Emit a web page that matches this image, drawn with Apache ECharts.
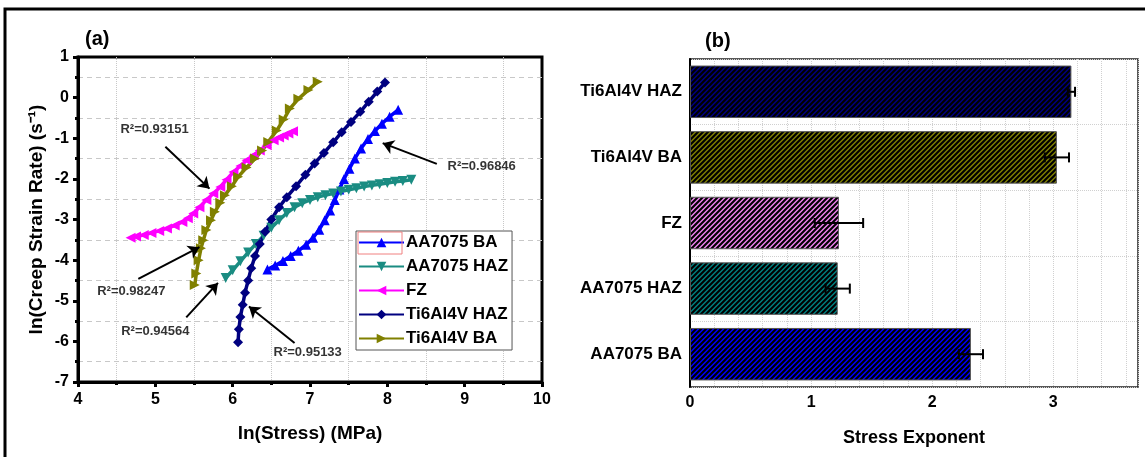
<!DOCTYPE html>
<html>
<head>
<meta charset="utf-8">
<script src="https://cdn.jsdelivr.net/npm/echarts@6/dist/echarts.min.js"></script>
<style>
  html, body { margin: 0; padding: 0; background: #fff; }
  #chart { width: 1145px; height: 457px; }
</style>
</head>
<body>
<div id="chart"></div>
<script>
// (a) ln(creep strain rate) vs ln(stress)
const aa7075BA = [[6.45,-4.23],[6.55,-4.13],[6.65,-4.02],[6.75,-3.9],[6.85,-3.77],[6.95,-3.62],[7.04,-3.45],
  [7.12,-3.25],[7.19,-3.02],[7.26,-2.78],[7.32,-2.52],[7.38,-2.26],[7.44,-2.0],[7.51,-1.75],[7.58,-1.5],
  [7.66,-1.25],[7.75,-1.02],[7.84,-0.82],[7.93,-0.64],[8.03,-0.47],[8.14,-0.3]];
const aa7075HAZ = [[5.91,-4.44],[6.0,-4.25],[6.1,-4.03],[6.2,-3.81],[6.3,-3.6],[6.4,-3.4],[6.5,-3.2],[6.6,-3.02],
  [6.7,-2.84],[6.8,-2.7],[6.9,-2.6],[7.0,-2.52],[7.1,-2.45],[7.2,-2.4],[7.3,-2.36],[7.4,-2.31],[7.5,-2.27],
  [7.6,-2.23],[7.7,-2.19],[7.8,-2.16],[7.9,-2.13],[8.0,-2.1],[8.1,-2.07],[8.2,-2.05],[8.31,-2.02]];
const fz = [[4.68,-3.45],[4.75,-3.42],[4.85,-3.38],[4.95,-3.33],[5.05,-3.28],[5.15,-3.22],[5.25,-3.15],
  [5.35,-3.06],[5.42,-2.97],[5.49,-2.85],[5.57,-2.7],[5.66,-2.52],[5.75,-2.36],[5.84,-2.2],[5.92,-2.02],
  [6.01,-1.83],[6.1,-1.68],[6.18,-1.54],[6.27,-1.42],[6.35,-1.3],[6.44,-1.17],[6.53,-1.05],[6.6,-0.98],
  [6.66,-0.93],[6.72,-0.88],[6.78,-0.83]];
const ti6Al4vHAZ = [[6.07,-6.02],[6.08,-5.7],[6.1,-5.4],[6.13,-5.1],[6.16,-4.8],[6.2,-4.5],[6.24,-4.2],
  [6.29,-3.9],[6.35,-3.6],[6.42,-3.3],[6.5,-3.0],[6.6,-2.7],[6.7,-2.45],[6.82,-2.18],[6.94,-1.9],
  [7.06,-1.62],[7.18,-1.36],[7.3,-1.1],[7.41,-0.85],[7.53,-0.6],[7.65,-0.35],[7.76,-0.1],[7.87,0.15],[7.97,0.37]];
const ti6Al4vBA = [[5.51,-4.61],[5.53,-4.33],[5.56,-4.0],[5.59,-3.71],[5.62,-3.51],[5.66,-3.26],[5.72,-3.02],
  [5.77,-2.81],[5.84,-2.59],[5.9,-2.4],[5.99,-2.18],[6.07,-1.95],[6.18,-1.72],[6.29,-1.5],[6.38,-1.3],
  [6.46,-1.09],[6.57,-0.81],[6.66,-0.54],[6.74,-0.27],[6.85,-0.03],[6.98,0.19],[7.1,0.39]];

const r2Labels = ['R²=0.93151', 'R²=0.96846', 'R²=0.98247', 'R²=0.94564', 'R²=0.95133'];
const r2Pos = [[4.99,-0.79],[9.22,-1.69],[4.69,-4.78],[5.0,-5.75],[6.97,-6.28]];
const r2Arrows = [[5.13,-1.21,5.70,-2.24],[8.64,-1.63,7.94,-1.12],[4.78,-4.46,5.57,-3.68],
  [5.40,-5.41,5.81,-4.56],[6.80,-6.04,6.21,-5.14]];

// (b) stress exponent
const barCats = ['AA7075 BA', 'AA7075 HAZ', 'FZ', 'Ti6Al4V BA', 'Ti6Al4V HAZ'];
const exponent = [2.32, 1.22, 1.23, 3.03, 3.15];
const errLow = [2.22, 1.12, 1.03, 2.93, 3.12];
const errHigh = [2.42, 1.32, 1.43, 3.13, 3.18];
const barColors = ['#0000ff', '#008080', '#ee82ee', '#808000', '#000080'];

const FONT = '"Liberation Sans", Arial, sans-serif';

function hatch(color) {
  const s = 5;
  const c = document.createElement('canvas');
  c.width = s; c.height = s;
  const ctx = c.getContext('2d');
  ctx.fillStyle = color;
  ctx.fillRect(0, 0, s, s);
  ctx.strokeStyle = '#000';
  ctx.lineWidth = 2.1;
  ctx.beginPath();
  ctx.moveTo(-1, s + 1); ctx.lineTo(s + 1, -1);
  ctx.moveTo(-1, 1); ctx.lineTo(1, -1);
  ctx.moveTo(s - 1, s + 1); ctx.lineTo(s + 1, s - 1);
  ctx.stroke();
  return { image: c, repeat: 'repeat' };
}

function lineSeries(name, data, color, symbol, rotate) {
  return {
    type: 'line', name, data, color,
    xAxisIndex: 0, yAxisIndex: 0,
    symbol, symbolSize: 10, symbolRotate: rotate,
    lineStyle: { width: 3.5, color },
    itemStyle: { color },
    showSymbol: true
  };
}

const chart = echarts.init(document.getElementById('chart'));

const option = {
  animation: false,
  title: [
    { text: '(a)', left: 80, top: 24, textStyle: { fontFamily: FONT, fontWeight: 'bold', fontSize: 20, color: '#000' } },
    { text: '(b)', left: 700, top: 26, textStyle: { fontFamily: FONT, fontWeight: 'bold', fontSize: 20, color: '#000' } }
  ],
  graphic: [
    { type: 'rect', shape: { x: 5, y: 9, width: 1170, height: 480 }, style: { fill: 'none', stroke: '#000', lineWidth: 3 }, silent: true },
    { type: 'rect', shape: { x: 358, y: 232, width: 44, height: 22 }, style: { fill: 'none', stroke: '#f08080', lineWidth: 1 }, z: 100, silent: true }
  ],
  legend: {
    data: ['AA7075 BA', 'AA7075 HAZ', 'FZ', 'Ti6Al4V HAZ', 'Ti6Al4V BA'],
    orient: 'vertical',
    left: 356, top: 231,
    itemWidth: 45, itemHeight: 12, itemGap: 7,
    borderColor: '#555', borderWidth: 1,
    padding: [3, 4, 3, 2],
    backgroundColor: '#fff',
    textStyle: { fontFamily: FONT, fontWeight: 'bold', fontSize: 17, color: '#000', padding: [0, 0, 0, -3] }
  },
  grid: [
    { left: 78, right: 603, top: 57, bottom: 75, show: true, borderColor: '#000', borderWidth: 3 },
    { left: 690, right: 7, top: 59, bottom: 70, show: true, borderColor: '#222', borderWidth: 1.5 }
  ],
  xAxis: [
    {
      gridIndex: 0, type: 'value', min: 4, max: 10, interval: 1,
      name: 'ln(Stress) (MPa)', nameLocation: 'middle', nameGap: 42,
      nameTextStyle: { fontFamily: FONT, fontWeight: 'bold', fontSize: 19, color: '#000' },
      axisLine: { onZero: false, lineStyle: { color: '#000', width: 3 } },
      axisTick: { length: 5, lineStyle: { width: 3, color: '#000' } },
      minorTick: { show: true, splitNumber: 2, length: 3, lineStyle: { width: 3, color: '#000' } },
      splitLine: { show: false },
      minorSplitLine: { show: true, lineStyle: { color: '#c8c8c8', type: 'dotted', width: 1 } },
      axisLabel: { fontFamily: FONT, fontWeight: 'bold', fontSize: 16, color: '#000', margin: 10 }
    },
    {
      gridIndex: 1, type: 'value', min: 0, max: 3.7, interval: 0.2,
      name: 'Stress Exponent', nameLocation: 'middle', nameGap: 42,
      nameTextStyle: { fontFamily: FONT, fontWeight: 'bold', fontSize: 18, color: '#000' },
      axisLine: { onZero: false, lineStyle: { color: '#000', width: 3 } },
      axisTick: { length: 4, lineStyle: { width: 2, color: '#000' } },
      splitLine: { show: true, lineStyle: { color: '#d0d0d0', type: 'dotted', width: 1 } },
      axisLabel: {
        fontFamily: FONT, fontWeight: 'bold', fontSize: 16, color: '#000', margin: 8,
        showMaxLabel: false,
        formatter: v => Math.abs(v - Math.round(v)) < 1e-6 ? String(Math.round(v)) : ''
      }
    }
  ],
  yAxis: [
    {
      gridIndex: 0, type: 'value', min: -7, max: 1, interval: 1,
      name: 'ln(Creep Strain Rate) (s⁻¹)', nameLocation: 'middle', nameGap: 32,
      nameTextStyle: { fontFamily: FONT, fontWeight: 'bold', fontSize: 19, color: '#000' },
      axisLine: { onZero: false, lineStyle: { color: '#000', width: 3 } },
      axisTick: { length: 5, lineStyle: { width: 3, color: '#000' } },
      minorTick: { show: true, splitNumber: 2, length: 3, lineStyle: { width: 3, color: '#000' } },
      splitLine: { show: false },
      minorSplitLine: { show: true, lineStyle: { color: '#c8c8c8', type: [5, 4], width: 1 } },
      axisLabel: { fontFamily: FONT, fontWeight: 'bold', fontSize: 16, color: '#000', margin: 9 }
    },
    {
      gridIndex: 1, type: 'category', data: barCats,
      axisLine: { onZero: false, lineStyle: { color: '#000', width: 2 } },
      axisTick: { length: 4, lineStyle: { width: 2, color: '#000' } },
      splitLine: { show: true, lineStyle: { color: '#d0d0d0', type: 'dotted', width: 1 } },
      axisLabel: { fontFamily: FONT, fontWeight: 'bold', fontSize: 17, color: '#000', margin: 8 }
    }
  ],
  series: [
    lineSeries('AA7075 BA', aa7075BA, '#0000ff', 'triangle', 0),
    lineSeries('AA7075 HAZ', aa7075HAZ, '#1a8c82', 'triangle', 180),
    lineSeries('FZ', fz, '#ff00ff', 'triangle', 90),
    lineSeries('Ti6Al4V HAZ', ti6Al4vHAZ, '#000080', 'diamond', 0),
    lineSeries('Ti6Al4V BA', ti6Al4vBA, '#808000', 'triangle', -90),
    {
      type: 'scatter', name: 'r2', xAxisIndex: 0, yAxisIndex: 0,
      data: r2Pos.map((p, i) => [p[0], p[1], r2Labels[i]]),
      symbolSize: 0, silent: true, z: 5,
      label: {
        show: true, position: 'inside', formatter: p => p.value[2],
        fontFamily: FONT, fontWeight: 'bold', fontSize: 13, color: '#000'
      },
      markLine: {
        silent: true, animation: false,
        symbol: ['none', 'arrow'], symbolSize: 11,
        label: { show: false },
        lineStyle: { color: '#000', width: 2, type: 'solid' },
        data: r2Arrows.map(a => [{ coord: [a[0], a[1]] }, { coord: [a[2], a[3]] }])
      }
    },
    {
      type: 'bar', name: 'exponent', xAxisIndex: 1, yAxisIndex: 1,
      barCategoryGap: '20%',
      data: exponent.map((v, i) => ({ value: v, itemStyle: { color: hatch(barColors[i]) } })),
      itemStyle: { borderColor: '#555', borderWidth: 1 }
    },
    {
      type: 'custom', name: 'err', xAxisIndex: 1, yAxisIndex: 1, z: 10,
      data: barCats.map((c, i) => [i, errLow[i], errHigh[i]]),
      encode: { x: [1, 2], y: 0 },
      renderItem: (params, api) => {
        const y = api.value(0);
        const p1 = api.coord([api.value(1), y]);
        const p2 = api.coord([api.value(2), y]);
        const h = 5;
        const style = { stroke: '#000', lineWidth: 2 };
        return {
          type: 'group',
          children: [
            { type: 'line', shape: { x1: p1[0], y1: p1[1], x2: p2[0], y2: p2[1] }, style },
            { type: 'line', shape: { x1: p1[0], y1: p1[1] - h, x2: p1[0], y2: p1[1] + h }, style },
            { type: 'line', shape: { x1: p2[0], y1: p2[1] - h, x2: p2[0], y2: p2[1] + h }, style }
          ]
        };
      }
    }
  ]
};

chart.setOption(option);
</script>
</body>
</html>
